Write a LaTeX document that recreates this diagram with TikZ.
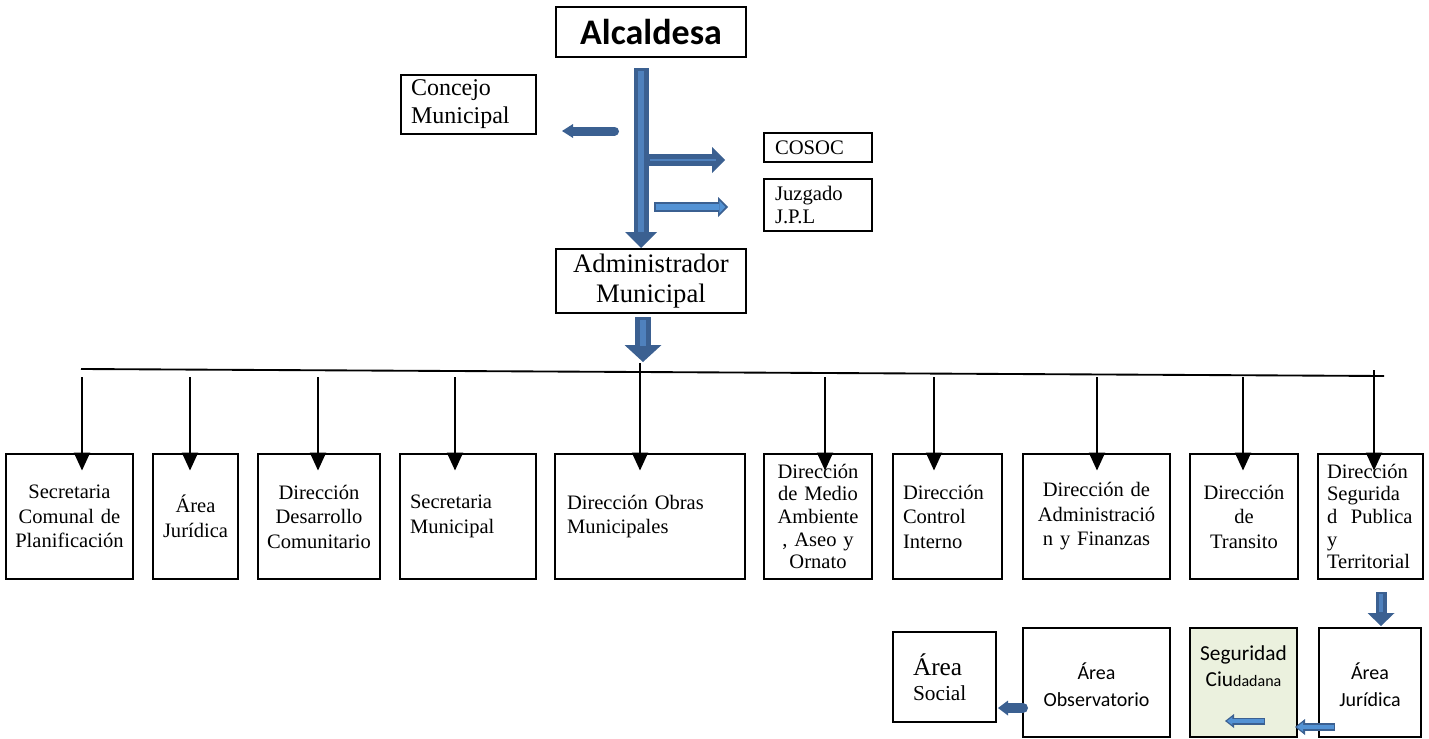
\documentclass[tikz,border=0pt]{standalone}
\usepackage{fontspec}
\setmainfont{Liberation Serif}
\newfontfamily\calibri{Carlito}
\usetikzlibrary{arrows.meta}
\definecolor{bdark}{HTML}{3B6091}
\definecolor{bmid}{HTML}{4F81BD}
\definecolor{blite}{HTML}{5392D4}
\definecolor{segfill}{HTML}{EBF1DE}
\tikzset{
  box/.style={draw, line width=2.2pt, inner sep=0pt},
  dept/.style={box, minimum height=93.75pt, font=\fontsize{15.4}{18.4}\selectfont},
  vline/.style={line width=1.4pt, -{Triangle[width=12pt,length=13.5pt]}, shorten >=-13.5pt},
  cal/.style={font=\calibri\fontsize{15}{20}\selectfont, align=center},
}

\begin{document}
\begin{tikzpicture}[x=0.75pt,y=-0.75pt]

  \useasboundingbox (0,0) rectangle (1429,739);

  % top of the chart
  \node[box, minimum width=142.5pt, minimum height=37.5pt,
        font=\calibri\bfseries\fontsize{27}{30}\selectfont] (alc) at (651,32) {Alcaldesa};
  \node[box, minimum width=101.25pt, minimum height=44.25pt, text width=86.25pt, align=left,
        font=\fontsize{18}{21}\selectfont] (con) at (468.5,104.5) {Concejo\\Municipal};
  \node[box, minimum width=81pt, minimum height=21.75pt, text width=64.5pt, align=left,
        font=\fontsize{15.5}{17}\selectfont] (cosoc) at (818,147.5) {COSOC};
  \node[box, minimum width=81pt, minimum height=39pt, text width=64.5pt, align=left,
        font=\fontsize{15.5}{17}\selectfont] (juz) at (818,205) {Juzgado\\J.P.L};
  \node[box, minimum width=142.5pt, minimum height=48pt, align=center,
        font=\fontsize{20}{22.5}\selectfont] (adm) at (651,281) {Administrador\\Municipal};

  \coordinate (mainA) at (641,68);
  \coordinate (mainB) at (641,248);
  \coordinate (conA) at (614.5,131);
  \coordinate (conB) at (562,131);
  \coordinate (cosA) at (645,160);
  \coordinate (cosB) at (725,160);
  \coordinate (juzA) at (654,207);
  \coordinate (juzB) at (728,207);
  \coordinate (admA) at (643,317);
  \coordinate (admB) at (643,362);

  \draw[bdark, line width=9pt, -{Triangle[width=19.5pt,length=9.75pt,line width=0pt]}] (cosA) -- (cosB);
  \draw[bmid, line width=1.2pt] (650,160) -- (716,160);
  \draw[bdark, line width=11.25pt, -{Triangle[width=24pt,length=12pt,line width=0pt]}] (mainA) -- (mainB);
  \draw[bmid, line width=4.5pt] (641,71) -- (641,232);
  \draw[bdark, line width=6.75pt, line cap=round, -{Triangle[width=10.5pt,length=8.25pt,line width=0pt]}] (conA) -- (conB);
  \draw[bdark, line width=7.5pt, -{Triangle[width=15pt,length=7.5pt,line width=0pt]}] (juzA) -- (juzB);
  \draw[blite, line width=4.5pt, shorten >=2pt, -{Triangle[width=9.5pt,length=4.5pt,line width=0pt]}] (655.5,207) -- (juzB);
  \draw[bdark, line width=12pt, -{Triangle[width=27.75pt,length=12.75pt,line width=0pt]}] (admA) -- (admB);
  \draw[bmid, line width=4.5pt] (643,320) -- (643,346);

  % departments
  \node[dept, minimum width=95.25pt, text width=90pt, align=center] (scp) at (69.5,516.5) {Secretaria\\Comunal de\\Planificación};
  \node[dept, minimum width=63.75pt, text width=60pt, align=center] (ajr) at (195.5,516.5) {Área\\Jurídica};
  \node[dept, minimum width=91.5pt, text width=87pt, align=center] (ddc) at (319,516.5) {Dirección\\Desarrollo\\Comunitario};
  \node[dept, minimum width=102pt, text width=87pt, align=left] (smu) at (468,516.5) {Secretaria\\Municipal};
  \node[dept, minimum width=142.5pt, text width=124.5pt, align=left] (dom) at (650,516.5) {Dirección Obras\\Municipales};
  \node[dept, minimum width=81pt, text width=78pt, align=center,
        font=\fontsize{15.4}{17}\selectfont] (dma) at (818,516.5) {Dirección\\de Medio\\Ambiente\\, Aseo y\\Ornato};
  \node[dept, minimum width=81.75pt, text width=66.75pt, align=left] (dci) at (947.5,516.5) {Dirección\\Control\\Interno};
  \node[dept, minimum width=110.25pt, text width=105pt, align=center] (daf) at (1096.5,516.5) {Dirección de\\Administració\\n y Finanzas};
  \node[dept, minimum width=81pt, text width=75pt, align=center] (dtr) at (1244,516.5) {Dirección\\de\\Transito};
  \node[dept, minimum width=78.75pt, text width=65.25pt, align=left,
        font=\fontsize{15.4}{17}\selectfont] (dsp) at (1370.5,516.5) {Dirección\\Segurida\\d\ \ Publica\\y\\Territorial};

  \coordinate (hl1) at (81,369);
  \coordinate (hl2) at (1384,376);
  \draw[line width=1.4pt] (hl1) -- (hl2);

  \coordinate (v1) at (82,377);
  \coordinate (v2) at (190,377);
  \coordinate (v3) at (318,377);
  \coordinate (v4) at (455,377);
  \coordinate (v5) at (640,363);
  \coordinate (v6) at (825,377);
  \coordinate (v7) at (934,377);
  \coordinate (v8) at (1097,377);
  \coordinate (v9) at (1243,377);
  \coordinate (v10) at (1374,370);

  \draw[vline] (v1) -- (v1 |- scp.north);
  \draw[vline] (v2) -- (v2 |- ajr.north);
  \draw[vline] (v3) -- (v3 |- ddc.north);
  \draw[vline] (v4) -- (v4 |- smu.north);
  \draw[vline] (v5) -- (v5 |- dom.north);
  \draw[vline] (v6) -- (v6 |- dma.north);
  \draw[vline] (v7) -- (v7 |- dci.north);
  \draw[vline] (v8) -- (v8 |- daf.north);
  \draw[vline] (v9) -- (v9 |- dtr.north);
  \draw[vline] (v10) -- (v10 |- dsp.north);

  % under seguridad publica
  \node[box, line width=1.1pt, minimum width=77.25pt, minimum height=67.5pt, text width=47.25pt, align=left,
        font=\fontsize{16}{19}\selectfont] (soc) at (944.5,677) {{\fontsize{19}{19}\selectfont Área}\\Social};
  \node[box, line width=2pt, minimum width=110.25pt, minimum height=81.75pt] (obs) at (1096.5,682.5) {};
  \node[box, line width=2pt, fill=segfill, minimum width=80.25pt, minimum height=81.75pt] (seg) at (1243.5,682.5) {};
  \node[box, line width=2pt, minimum width=76.5pt, minimum height=81.75pt] (aj) at (1370,682.5) {};

  \node[cal] (obsT) at ([yshift=-1.5pt]obs.center) {Área\\Observatorio};
  \node[cal, font=\calibri\fontsize{16}{19.5}\selectfont] (segT) at ([yshift=12.4pt]seg.center) {Seguridad\\Ciu{\fontsize{12}{12}\selectfont dadana}};
  \node[cal] (ajT) at ([yshift=-1.9pt]aj.center) {Área\\Jurídica};

  \coordinate (ajA) at (1381,592);
  \coordinate (ajB) at (1381,626);
  \coordinate (osA) at (1023,708);
  \coordinate (osB) at (998,708);
  \coordinate (jsA) at (1335,727);
  \coordinate (jsB) at (1295,727);
  \coordinate (ssA) at (1265,721);
  \coordinate (ssB) at (1225,721);

  \draw[bdark, line width=8.25pt, -{Triangle[width=20.25pt,length=9.75pt,line width=0pt]}] (ajA) -- (ajB);
  \draw[bmid, line width=3pt] (1381,594) -- (1381,612);
  \draw[bdark, line width=7.5pt, line cap=round, -{Triangle[width=11.25pt,length=7.5pt,line width=0pt]}] (osA) -- (osB);
  \draw[bdark, line width=6pt, -{Triangle[width=12pt,length=7.5pt,line width=0pt]}] (jsA) -- (jsB);
  \draw[blite, line width=3pt, shorten >=1.5pt, -{Triangle[width=7pt,length=4.5pt,line width=0pt]}] (1334,727) -- (jsB);
  \draw[bdark, line width=5.25pt, -{Triangle[width=10.5pt,length=6.75pt,line width=0pt]}] (ssA) -- (ssB);
  \draw[blite, line width=2.5pt, shorten >=1.5pt, -{Triangle[width=6pt,length=4pt,line width=0pt]}] (1264,721) -- (ssB);

\end{tikzpicture}
\end{document}
